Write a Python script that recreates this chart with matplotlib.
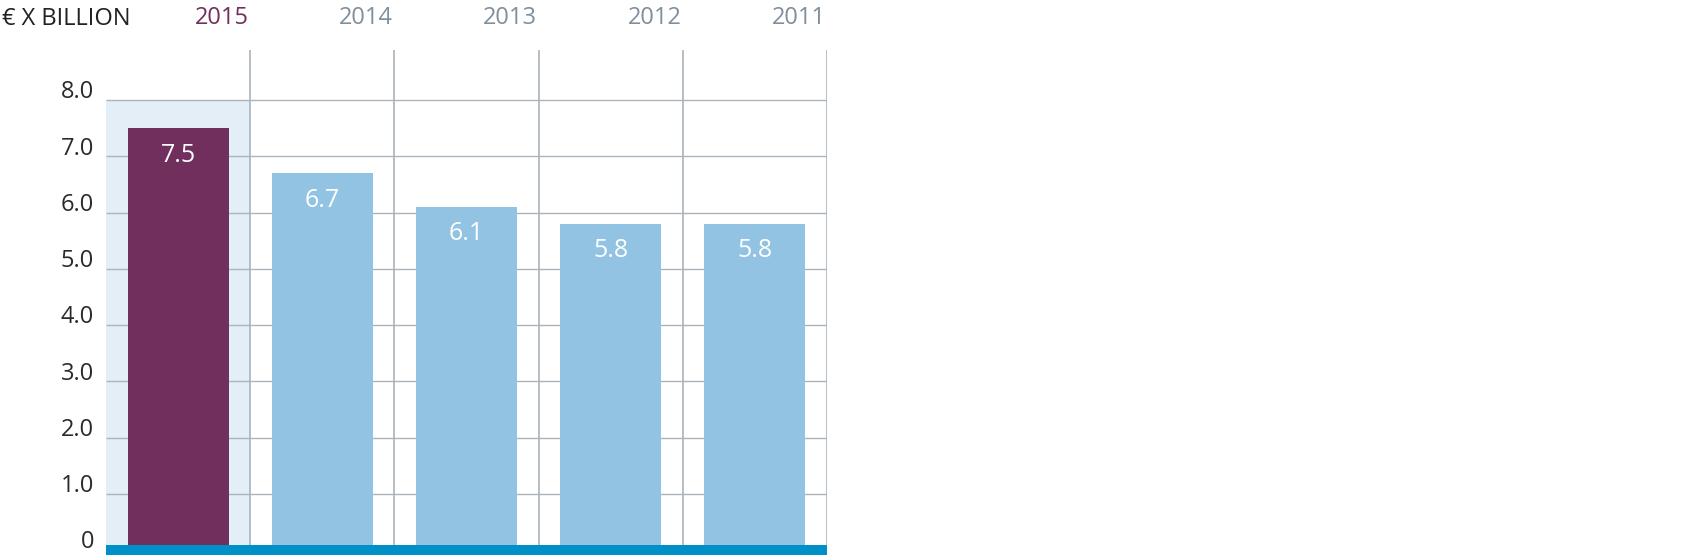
import matplotlib
matplotlib.use("Agg")
import matplotlib.pyplot as plt
from matplotlib.transforms import blended_transform_factory

years = ["2015", "2014", "2013", "2012", "2011"]
values = [7.5, 6.7, 6.1, 5.8, 5.8]
value_labels = ["7.5", "6.7", "6.1", "5.8", "5.8"]
yticks = [0, 1, 2, 3, 4, 5, 6, 7, 8]
ytick_labels = ["0", "1.0", "2.0", "3.0", "4.0", "5.0", "6.0", "7.0", "8.0"]
unit_label = "€ X BILLION"

PURPLE = "#702F5C"
LIGHTBLUE = "#92C3E3"
SHADE = "#E3EEF7"
BAND = "#0090C8"
GRID = "#A9B4BC"
YEARGRAY = "#7F8F9C"
FONT = ["Open Sans", "DejaVu Sans"]

W, H = 1701, 555
dpi = 100
fig = plt.figure(figsize=(W / dpi, H / dpi), dpi=dpi)

left_px, right_px, top_px = 106, 827, 50
ax = fig.add_axes([left_px / W, 0, (right_px - left_px) / W, (H - top_px) / H])
px_per_unit = 56.25
zero_px = 550
ymin = -(H - zero_px) / px_per_unit
ymax = (zero_px - top_px) / px_per_unit
ax.set_xlim(-0.5, len(years) - 0.5)
ax.set_ylim(ymin, ymax)
ax.axis("off")

# shaded current-year column
ax.bar(0, yticks[-1] - ymin, bottom=ymin, width=1.0, color=SHADE, zorder=0, linewidth=0)

# horizontal gridlines
for t in yticks[1:]:
    ax.hlines(t, -0.5, len(years) - 0.5, color=GRID, lw=1.0, zorder=1)
# vertical separators
for i in range(len(years)):
    ax.vlines(i + 0.5, ymin, ymax, color=GRID, lw=1.2, zorder=1)

colors = [PURPLE] + [LIGHTBLUE] * (len(years) - 1)
xs = list(range(len(years)))
ax.bar(xs, values, width=0.70, color=colors, zorder=2, linewidth=0)

for x, v, lab in zip(xs, values, value_labels):
    ax.text(x, v - 0.48, lab, ha="center", va="center", color="white",
            fontsize=18, family=FONT, zorder=3)

# bottom band
ax.axhspan(ymin, -ymin, color=BAND, zorder=4, lw=0)

# y tick labels
for t, lab in zip(yticks, ytick_labels):
    ax.text(-0.5 - 12 / 144.2, t + 0.03, lab, ha="right", va="baseline",
            fontsize=17, family=FONT, color="#2a2a2a", clip_on=False)

# year labels at top
tr = blended_transform_factory(ax.transData, fig.transFigure)
for i, y in enumerate(years):
    ax.text(i + 0.5 - 1.5 / 144.2, 1 - 24 / H, y, transform=tr, ha="right", va="baseline",
            fontsize=17, family=FONT, color=PURPLE if i == 0 else YEARGRAY, clip_on=False)

fig.text(2 / W, 1 - 25 / H, unit_label, ha="left", va="baseline", fontsize=17,
         family=FONT, color="#222222")

fig.savefig("out.png", dpi=dpi)
